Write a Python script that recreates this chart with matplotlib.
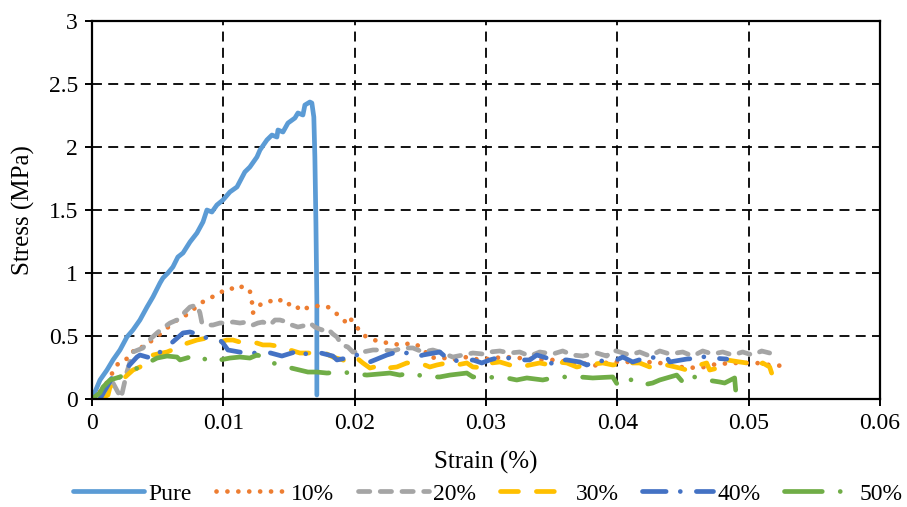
import matplotlib
matplotlib.use("Agg")
import matplotlib.pyplot as plt
from matplotlib.ticker import FuncFormatter

plt.rcParams['font.family'] = ['Liberation Serif', 'DejaVu Serif']

# strain (x) and stress (y)
pure_x = [0.0, 0.00061, 0.00114, 0.0016, 0.00213, 0.00266, 0.00312, 0.00365, 0.00419, 0.00464,
          0.00518, 0.0054, 0.00578, 0.00616, 0.00654, 0.00693, 0.00746, 0.00799, 0.00845, 0.00875,
          0.00913, 0.00951, 0.00997, 0.0105, 0.01104, 0.01164, 0.01202, 0.01256, 0.01279, 0.01332,
          0.0137, 0.01408, 0.01416, 0.01454, 0.01492, 0.01545, 0.01568, 0.01606, 0.01621, 0.01659,
          0.01674, 0.01689, 0.01697, 0.01705, 0.01712, 0.01712]
pure_y = [0.0, 0.151, 0.23, 0.31, 0.389, 0.492, 0.548, 0.627, 0.73, 0.81,
          0.921, 0.96, 1.0, 1.048, 1.127, 1.159, 1.246, 1.317, 1.405, 1.5,
          1.484, 1.54, 1.579, 1.643, 1.683, 1.802, 1.841, 1.921, 1.976, 2.056,
          2.095, 2.079, 2.135, 2.119, 2.19, 2.23, 2.27, 2.254, 2.333, 2.357,
          2.349, 2.238, 1.921, 1.397, 0.786, 0.032]

p10_x = [0.0, 0.0006, 0.00107, 0.00137, 0.00175, 0.00228, 0.00289, 0.00327, 0.00388, 0.00441,
         0.00502, 0.00571, 0.00647, 0.00746, 0.00822, 0.00883, 0.00959, 0.01005, 0.0105, 0.01104,
         0.01149, 0.01202, 0.01218, 0.01225, 0.01256, 0.01301, 0.01355, 0.01393, 0.01454, 0.01507,
         0.0156, 0.01583, 0.01636, 0.01697, 0.0175, 0.01796, 0.01834, 0.01887, 0.01941, 0.01963,
         0.02017, 0.02062, 0.02131, 0.02192, 0.02268, 0.02344, 0.02443, 0.02519, 0.02572, 0.02648,
         0.02747, 0.02854, 0.02953, 0.03052, 0.03158, 0.03257, 0.03356, 0.03508, 0.03638, 0.03737,
         0.03813, 0.03942, 0.04117, 0.04224, 0.04323, 0.04475, 0.04627, 0.04756, 0.04909, 0.05061,
         0.0516, 0.05274]
p10_y = [0.0, 0.056, 0.12, 0.167, 0.254, 0.31, 0.325, 0.405, 0.413, 0.452,
         0.5, 0.563, 0.627, 0.683, 0.762, 0.786, 0.841, 0.857, 0.881, 0.865,
         0.897, 0.857, 0.77, 0.683, 0.73, 0.762, 0.778, 0.762, 0.794, 0.746,
         0.714, 0.746, 0.722, 0.738, 0.738, 0.73, 0.706, 0.651, 0.603, 0.643,
         0.571, 0.508, 0.476, 0.452, 0.444, 0.429, 0.444, 0.405, 0.325, 0.333,
         0.31, 0.333, 0.31, 0.325, 0.333, 0.325, 0.317, 0.31, 0.294, 0.286,
         0.262, 0.294, 0.294, 0.294, 0.286, 0.254, 0.246, 0.278, 0.286, 0.286,
         0.27, 0.262]

p20_x = [0.0016, 0.00221, 0.00266, 0.00312, 0.00388, 0.00419, 0.00495, 0.0054, 0.00594, 0.00647,
         0.00685, 0.00746, 0.00799, 0.00822, 0.00837, 0.00875, 0.00921, 0.00974, 0.01027, 0.01073,
         0.01126, 0.0118, 0.01225, 0.01263, 0.01301, 0.01355, 0.01393, 0.01431, 0.01484, 0.01522,
         0.01568, 0.01636, 0.01659, 0.01697, 0.0175, 0.01788, 0.01834, 0.01865, 0.01903, 0.01948,
         0.01986, 0.02062, 0.02139, 0.02215, 0.02291, 0.02367, 0.02443, 0.02519, 0.02595, 0.02671,
         0.02747, 0.02823, 0.029, 0.02976, 0.03029, 0.03105, 0.03181, 0.03257, 0.03333, 0.03409,
         0.03508, 0.03584, 0.03661, 0.03737, 0.03843, 0.03919, 0.03965, 0.04018, 0.04094, 0.0417,
         0.04247, 0.04323, 0.04399, 0.04498, 0.04574, 0.0465, 0.04726, 0.04802, 0.04878, 0.04954,
         0.0503, 0.05099, 0.0516]
p20_y = [0.127, 0.008, 0.214, 0.373, 0.405, 0.452, 0.524, 0.563, 0.603, 0.627,
         0.667, 0.73, 0.746, 0.683, 0.603, 0.587, 0.587, 0.603, 0.603, 0.611,
         0.603, 0.611, 0.587, 0.603, 0.611, 0.587, 0.627, 0.627, 0.611, 0.587,
         0.571, 0.587, 0.603, 0.571, 0.548, 0.563, 0.516, 0.492, 0.429, 0.413,
         0.373, 0.373, 0.389, 0.389, 0.381, 0.405, 0.405, 0.373, 0.389, 0.365,
         0.333, 0.349, 0.365, 0.357, 0.373, 0.381, 0.365, 0.373, 0.341, 0.373,
         0.357, 0.381, 0.349, 0.341, 0.365, 0.341, 0.389, 0.373, 0.349, 0.373,
         0.341, 0.381, 0.357, 0.373, 0.341, 0.381, 0.357, 0.373, 0.349, 0.373,
         0.349, 0.381, 0.365]

p30_x = [0.0006, 0.00122, 0.00137, 0.00228, 0.00312, 0.00365, 0.00441, 0.00464, 0.00571, 0.00647,
         0.00685, 0.00799, 0.00875, 0.00974, 0.01027, 0.01073, 0.01126, 0.01164, 0.01256, 0.01301,
         0.01355, 0.01454, 0.01507, 0.01583, 0.01644, 0.01712, 0.01773, 0.01834, 0.0191, 0.01963,
         0.02017, 0.02062, 0.02116, 0.02215, 0.02253, 0.02321, 0.02397, 0.02496, 0.02572, 0.02626,
         0.02702, 0.02778, 0.02854, 0.029, 0.03006, 0.03044, 0.03105, 0.03181, 0.03257, 0.03333,
         0.03409, 0.03486, 0.03539, 0.03615, 0.03691, 0.03767, 0.03889, 0.03965, 0.04072, 0.0417,
         0.04247, 0.04376, 0.04475, 0.04528, 0.04574, 0.0468, 0.04703, 0.04802, 0.04833, 0.04932,
         0.04985, 0.0503, 0.05107, 0.0516, 0.05175]
p30_y = [0.0, 0.032, 0.095, 0.151, 0.23, 0.254, 0.31, 0.349, 0.373, 0.405,
         0.429, 0.468, 0.484, 0.452, 0.468, 0.468, 0.452, 0.452, 0.444, 0.429,
         0.429, 0.413, 0.389, 0.365, 0.365, 0.365, 0.365, 0.333, 0.31, 0.286,
         0.325, 0.286, 0.246, 0.27, 0.246, 0.254, 0.286, 0.286, 0.254, 0.27,
         0.286, 0.27, 0.286, 0.254, 0.246, 0.286, 0.294, 0.27, 0.254, 0.27,
         0.286, 0.27, 0.294, 0.286, 0.254, 0.27, 0.286, 0.27, 0.286, 0.286,
         0.254, 0.27, 0.246, 0.23, 0.254, 0.286, 0.23, 0.254, 0.31, 0.294,
         0.286, 0.254, 0.286, 0.254, 0.206]

p40_x = [0.0006, 0.00122, 0.00175, 0.00213, 0.00251, 0.00342, 0.00365, 0.00419, 0.00457, 0.00571,
         0.00693, 0.00746, 0.00799, 0.00875, 0.00974, 0.00997, 0.01035, 0.01164, 0.01256, 0.01332,
         0.01446, 0.01545, 0.01568, 0.01712, 0.01834, 0.01865, 0.01941, 0.02017, 0.02093, 0.02116,
         0.02245, 0.02321, 0.02397, 0.02473, 0.02519, 0.02648, 0.02702, 0.02747, 0.02823, 0.029,
         0.02968, 0.03029, 0.03082, 0.03181, 0.03257, 0.03333, 0.03387, 0.03463, 0.03486, 0.03508,
         0.03615, 0.03714, 0.03767, 0.03813, 0.03881, 0.03995, 0.04041, 0.04117, 0.04186, 0.043,
         0.04376, 0.04399, 0.04528, 0.04627, 0.0468, 0.04726, 0.04833]
p40_y = [0.0, 0.111, 0.214, 0.167, 0.23, 0.333, 0.349, 0.333, 0.325, 0.413,
         0.524, 0.532, 0.516, 0.484, 0.468, 0.444, 0.389, 0.365, 0.365, 0.373,
         0.341, 0.373, 0.349, 0.373, 0.341, 0.31, 0.325, 0.349, 0.325, 0.294,
         0.349, 0.373, 0.365, 0.333, 0.349, 0.373, 0.325, 0.31, 0.294, 0.31,
         0.286, 0.31, 0.325, 0.325, 0.31, 0.31, 0.349, 0.325, 0.254, 0.31,
         0.31, 0.294, 0.27, 0.286, 0.302, 0.31, 0.333, 0.294, 0.317, 0.333,
         0.333, 0.294, 0.317, 0.325, 0.341, 0.325, 0.317]

p50_x = [0.0, 0.0006, 0.00084, 0.00137, 0.00213, 0.00266, 0.00312, 0.00365, 0.00495, 0.00571,
         0.00647, 0.0067, 0.00799, 0.00845, 0.00898, 0.0105, 0.01126, 0.01202, 0.01256, 0.01332,
         0.01377, 0.01431, 0.01484, 0.01644, 0.01712, 0.01788, 0.0191, 0.01963, 0.02093, 0.02268,
         0.02344, 0.0242, 0.02549, 0.02648, 0.02725, 0.02854, 0.029, 0.02976, 0.03158, 0.03234,
         0.03311, 0.03432, 0.03508, 0.03584, 0.03714, 0.03813, 0.03965, 0.04003, 0.04072, 0.04193,
         0.04269, 0.04323, 0.04452, 0.04498, 0.04528, 0.0468, 0.04779, 0.04817, 0.04893, 0.04901]
p50_y = [0.0, 0.048, 0.095, 0.151, 0.175, 0.206, 0.23, 0.254, 0.325, 0.341,
         0.333, 0.31, 0.349, 0.325, 0.294, 0.325, 0.333, 0.325, 0.349, 0.325,
         0.286, 0.27, 0.254, 0.214, 0.214, 0.206, 0.214, 0.206, 0.19, 0.206,
         0.19, 0.206, 0.175, 0.175, 0.19, 0.206, 0.175, 0.175, 0.167, 0.151,
         0.167, 0.151, 0.167, 0.175, 0.175, 0.167, 0.175, 0.111, 0.167, 0.111,
         0.127, 0.151, 0.19, 0.135, 0.19, 0.151, 0.135, 0.127, 0.167, 0.071]

labels = ['Pure', '10%', '20%', '30%', '40%', '50%']
colors = ['#5B9BD5', '#ED7D31', '#A5A5A5', '#FFC000', '#4472C4', '#70AD47']
styles = ['-', (0, (0.01, 2.3)), (0, (2.4, 2.2)), (0, (3.8, 3.8)),
          (0, (5.0, 3.0, 0.01, 3.4)), (0, (8.0, 3.8, 0.01, 3.8))]
series = [(pure_x, pure_y), (p10_x, p10_y), (p20_x, p20_y),
          (p30_x, p30_y), (p40_x, p40_y), (p50_x, p50_y)]

fs = 17

fig = plt.figure(figsize=(9.07, 5.07), dpi=100)
ax = fig.add_axes([92/907, 1 - 399/507, 788/907, 378/507])

for (xs, ys), lab, c, ls in zip(series, labels, colors, styles):
    ax.plot(xs, ys, color=c, linestyle=ls, linewidth=3.4, label=lab,
            solid_capstyle='round', dash_capstyle='round', solid_joinstyle='round')

ax.set_xlim(0, 0.06)
ax.set_ylim(0, 3)
ax.set_xticks([0, 0.01, 0.02, 0.03, 0.04, 0.05, 0.06])
ax.set_yticks([0, 0.5, 1, 1.5, 2, 2.5, 3])
ax.xaxis.set_major_formatter(FuncFormatter(lambda v, p: f"{v:g}"))
ax.yaxis.set_major_formatter(FuncFormatter(lambda v, p: f"{v:g}"))
ax.grid(True, color='black', linestyle=(0, (5.5, 3.5)), linewidth=1.3)
ax.set_axisbelow(True)
for s in ax.spines.values():
    s.set_color('black')
    s.set_linewidth(1.6)
ax.tick_params(direction='out', length=5, width=1.4, labelsize=fs, pad=5, colors='black')

ax.set_xlabel('Strain (%)', fontsize=18, labelpad=12)
ax.set_ylabel('Stress (MPa)', fontsize=18, labelpad=10)

ax.legend(loc='center', bbox_to_anchor=(488/907, 1 - 494/507), bbox_transform=fig.transFigure,
          ncol=6, frameon=False, fontsize=fs, handlelength=3.0, handletextpad=0.2,
          columnspacing=1.0, borderaxespad=0)

fig.savefig('out.png', dpi=100)
